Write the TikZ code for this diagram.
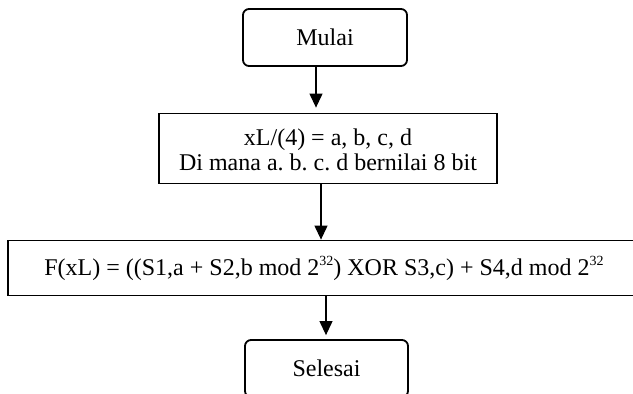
\documentclass[tikz,border=0pt]{standalone}
\usepackage{fontspec}
\setmainfont{Liberation Serif}
\usetikzlibrary{arrows.meta}
\frenchspacing
\newcommand{\supx}[1]{\raisebox{0.42em}{\fontsize{14}{14}\selectfont #1}}
\begin{document}
\begin{tikzpicture}[x=1pt,y=-1pt,
  box/.style={draw, line width=1.8pt, inner sep=0pt, font=\fontsize{24}{25}\selectfont, align=center},
  term/.style={box, rounded corners=6pt},
  arr/.style={line width=1.1pt, -{Triangle[length=14pt,width=13pt]}}]
\useasboundingbox (0,0) rectangle (633,394);
\node[term, minimum width=164pt, minimum height=57pt] (m) at (325,37.5) {Mulai};
\node[box, minimum width=338pt, minimum height=70pt] (p) at (328,148.5) {\raisebox{-4pt}[\height][\depth]{\begin{tabular}{@{}c@{}}xL/(4) = a, b, c, d\\Di mana a. b. c. d bernilai 8 bit\end{tabular}}};
\node[box, minimum width=632pt, minimum height=55pt] (f) at (324,268) {F(xL) = ((S1,a + S2,b mod 2\supx{32}) XOR S3,c) + S4,d mod 2\supx{32}};
\node[term, minimum width=163pt, minimum height=57pt] (s) at (326.5,368.5) {Selesai};
\draw[arr, shorten >=5pt] ([xshift=-9pt]m.south) -- ([xshift=-9pt]m.south |- p.north);
\draw[arr] ([xshift=-7pt]p.south) -- ([xshift=-7pt]p.south |- f.north);
\draw[arr, shorten >=4pt] ([xshift=2pt]f.south) -- ([xshift=2pt]f.south |- s.north);
\end{tikzpicture}
\end{document}
